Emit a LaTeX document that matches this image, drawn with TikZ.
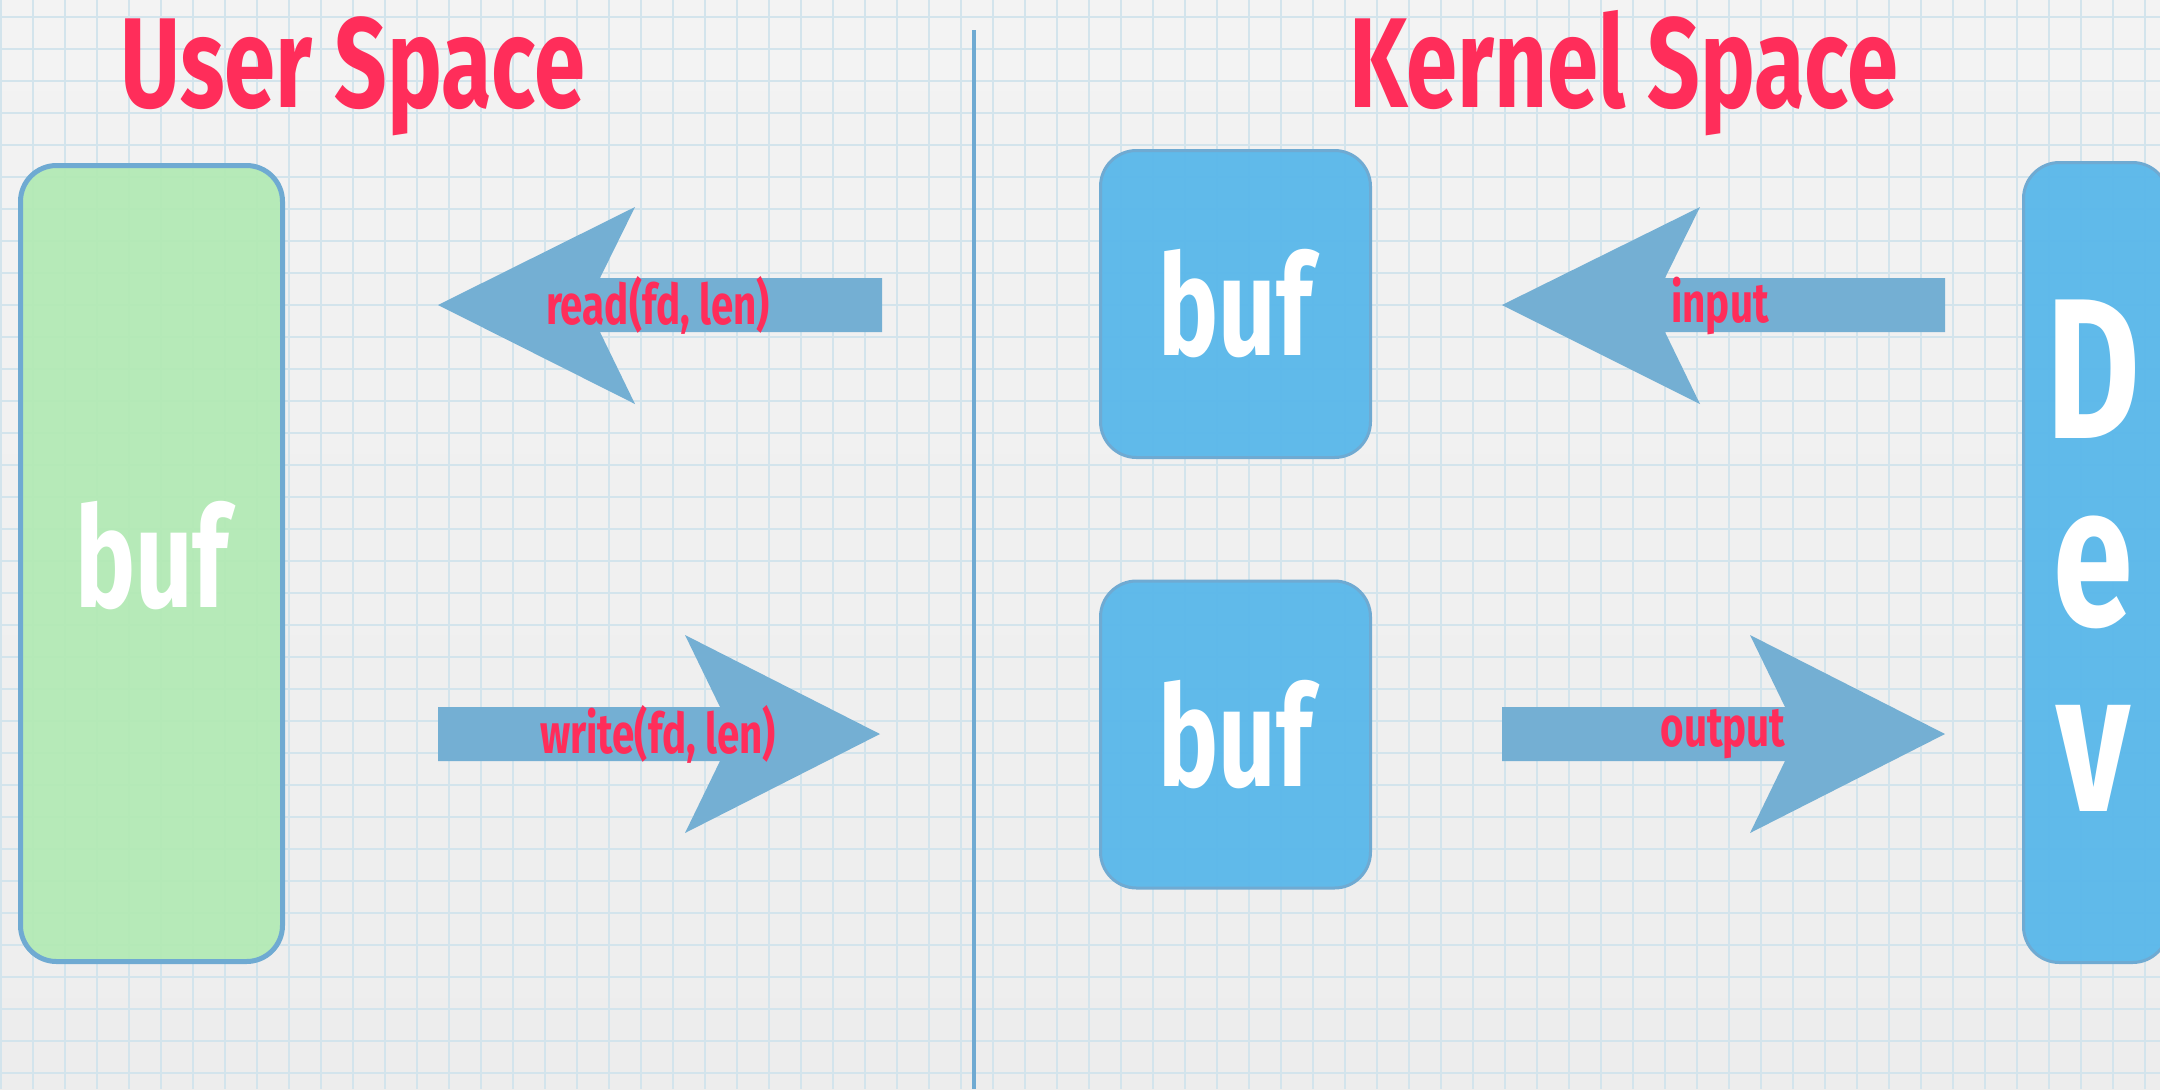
\documentclass[tikz,border=0pt]{standalone}
\usepackage{fontspec}
\newfontfamily\handfont{Fira Sans}[FakeStretch=0.72]
\definecolor{papertop}{HTML}{F3F3F3}
\definecolor{paperbot}{HTML}{EDEDED}
\definecolor{gridline}{HTML}{D3E4EC}
\definecolor{titlered}{HTML}{FF2D5A}
\definecolor{arrowblue}{HTML}{74AFD3}
\definecolor{boxgreen}{HTML}{B2EAB4}
\definecolor{boxblue}{HTML}{5BB8EA}
\definecolor{edgeblue}{HTML}{6FAAD2}
\begin{document}
\begin{tikzpicture}[x=0.5pt,y=-0.5pt,
  heading/.style={font=\handfont\bfseries\fontsize{64}{70}\selectfont, text=titlered, inner sep=0pt, anchor=base},
  label/.style={font=\handfont\bfseries\fontsize{28}{32}\selectfont, text=titlered, inner sep=0pt},
  bufbox/.style={draw=edgeblue, rounded corners=18pt, inner sep=0pt,
    font=\handfont\bfseries\fontsize{70}{76}\selectfont, text=white},
  userbuf/.style={bufbox, fill=boxgreen, fill opacity=0.93, text opacity=1, line width=2.5pt},
  kernbuf/.style={bufbox, fill=boxblue, fill opacity=0.96, text opacity=1, line width=1.5pt},
  devletter/.style={font=\handfont\bfseries\fontsize{100}{100}\selectfont, text=white, inner sep=0pt, anchor=base},
  blockarrow/.style={fill=arrowblue},
  divider/.style={draw=edgeblue, line width=2pt},
  gridrule/.style={draw=gridline, line width=1.2pt}
]
% page and squared paper
\useasboundingbox (0,0) rectangle (2160,1089);
\clip (0,0) rectangle (2160,1089);
\shade[top color=papertop, bottom color=paperbot] (0,0) rectangle (2160,1089);
\foreach \i in {0,...,67} \draw[gridrule] ({1+32*\i},0) -- ({1+32*\i},1089);
\foreach \j in {0,...,33} \draw[gridrule] (0,{17+32*\j}) -- (2160,{17+32*\j});

% headings and the line between the two spaces
\node[heading] (user) at (353,107) {User Space};
\node[heading] (kernel) at (1624,107) {Kernel Space};
\coordinate (divtop) at (974,30);
\coordinate (divbot) at (974,1089);
\draw[divider] (divtop) -- (divbot);

% buffers
\node[userbuf, minimum width=131pt, minimum height=398pt] (ubuf) at (151.5,563.5) {};
\node[font=\handfont\bfseries\fontsize{70}{76}\selectfont, text=white, inner sep=0pt] (ubuftext) at (152,556) {buf};
\node[kernbuf, minimum width=135pt, minimum height=153.5pt] (kin) at (1235.5,304) {buf};
\node[kernbuf, minimum width=135pt, minimum height=153.5pt] (kout) at (1235.5,734.5) {buf};

% device
\node[kernbuf, minimum width=72.5pt, minimum height=400pt] (dev) at (2096,562.5) {};
\node[devletter] (devD) at (2093,438) {D};
\node[devletter] (devE) at (2093,625) {e};
\node[devletter] (devV) at (2093,811) {v};

% block arrows
\fill[blockarrow] (882,278) -- (600,278) -- (635,207) -- (438,305) -- (635,404) -- (600,332) -- (882,332) -- cycle;
\fill[blockarrow] (438,707) -- (720,707) -- (685,635) -- (880,734) -- (685,833) -- (720,761) -- (438,761) -- cycle;
\fill[blockarrow] (1945,278) -- (1665,278) -- (1700,207) -- (1502,305) -- (1700,404) -- (1665,332) -- (1945,332) -- cycle;
\fill[blockarrow] (1502,707) -- (1785,707) -- (1750,635) -- (1945,734) -- (1750,833) -- (1785,761) -- (1502,761) -- cycle;

% arrow labels
\node[label] (lread) at (658,305) {read(fd, len)};
\node[label] (lwrite) at (658,734) {write(fd, len)};
\node[label] (linput) at (1720,306) {input};
\node[label] (loutput) at (1723,734) {output};
\end{tikzpicture}
\end{document}
